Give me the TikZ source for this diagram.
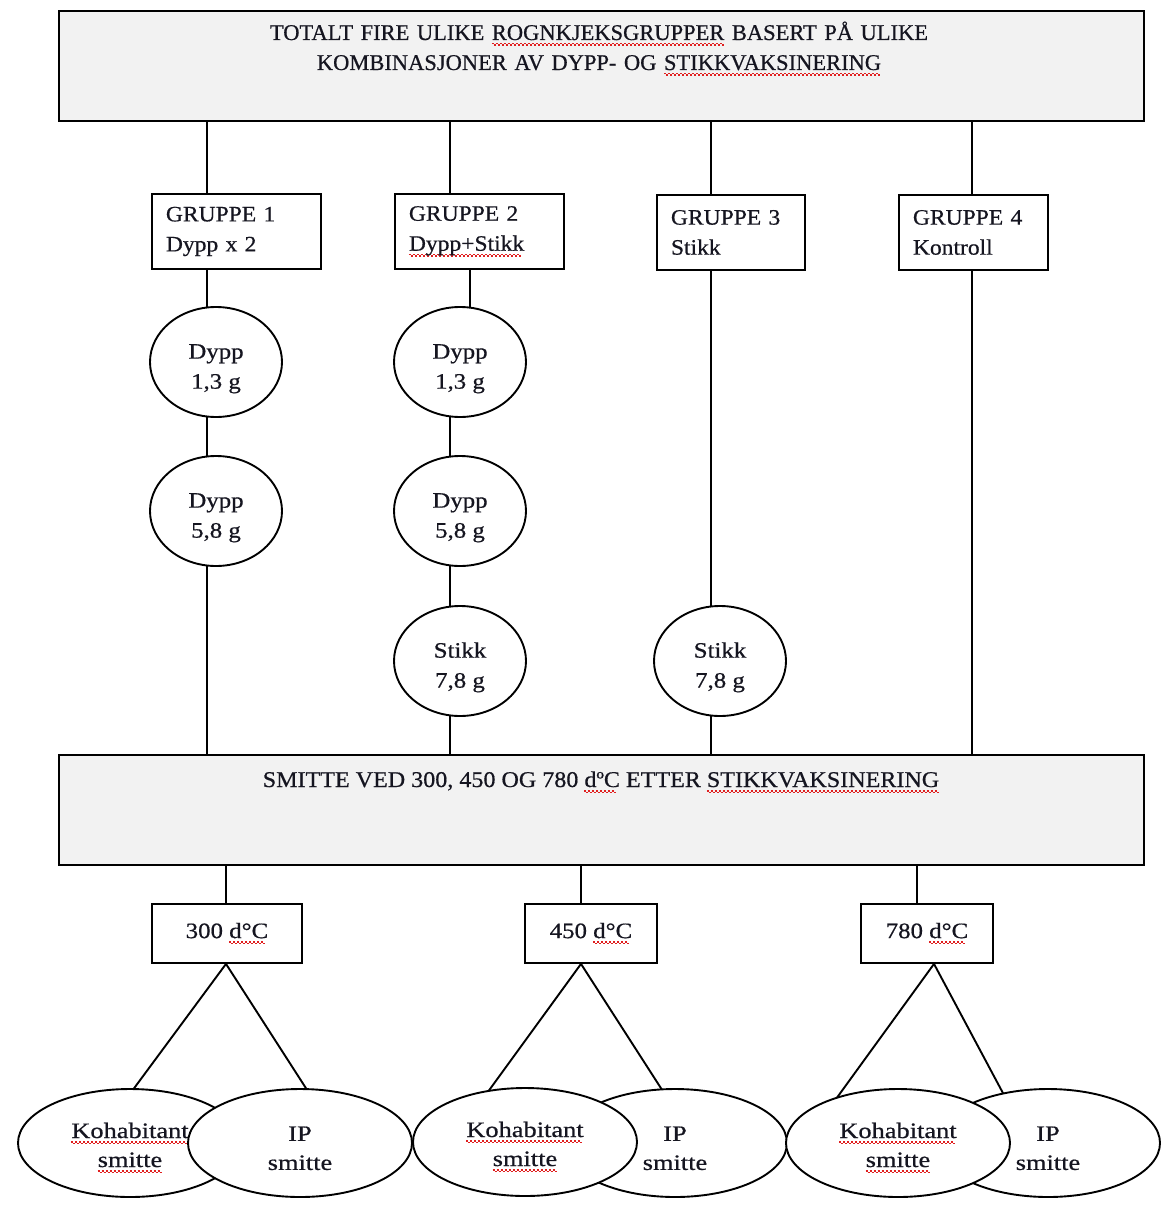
\documentclass[tikz,border=0pt]{standalone}
\usepackage{fontspec}
\setmainfont[FakeBold=0.6]{Liberation Serif}
\newfontfamily\wideA[FakeStretch=1.07,FakeBold=0.6]{Liberation Serif}
\newfontfamily\wideB[FakeStretch=1.13,FakeBold=0.6]{Liberation Serif}
\newfontfamily\wideC[FakeStretch=1.2,FakeBold=0.6]{Liberation Serif}
\usetikzlibrary{shapes.geometric,backgrounds,calc}
\definecolor{boxgray}{HTML}{F2F2F2}
\definecolor{squig}{HTML}{E02020}
\definecolor{ink}{HTML}{151520}
\newsavebox\sqbox
\newcommand\sq[1]{\leavevmode\sbox\sqbox{#1}\rlap{\textcolor{squig}{\leaders\hbox to 4pt{\vrule width 2pt height -3pt depth 4.5pt\vrule width 2pt height -4.5pt depth 6pt}\hskip\wd\sqbox}}\usebox\sqbox}
\newcommand\lift[1]{\rule{0pt}{#1}}
\begin{document}
\begin{tikzpicture}[x=1pt,y=-1pt, every node/.style={text=ink},
  bigbox/.style={draw, line width=2pt, fill=boxgray, minimum width=1085pt, minimum height=110pt, inner sep=0pt, anchor=north west},
  txt/.style={inner sep=0pt},
  grpbox/.style={draw, line width=1.9pt, fill=white, minimum height=75pt, inner xsep=14pt, inner ysep=0pt, align=left, anchor=north west, font=\wideA\fontsize{22}{30}\selectfont},
  dose/.style={ellipse, draw, line width=1.9pt, fill=white, minimum width=132pt, minimum height=110pt, inner sep=0pt, align=center, font=\wideB\fontsize{22}{30}\selectfont},
  degbox/.style={draw, line width=1.9pt, fill=white, minimum height=59pt, inner sep=0pt, anchor=north west, font=\wideB\fontsize{22}{26}\selectfont},
  infect/.style={ellipse, draw, line width=1.9pt, fill=white, minimum width=224pt, minimum height=108pt, inner sep=0pt, align=center, font=\wideC\fontsize{22}{29}\selectfont},
  conn/.style={line width=1.9pt}]
\useasboundingbox (0,0) rectangle (1161,1206);

% main boxes
\node[bigbox] (top) at (58,10) {};
\node[txt, font=\fontsize{22.5}{30}\selectfont, text width=1000pt, align=center, anchor=base] (toptext) at (599,40)
  {TOTALT FIRE ULIKE \sq{ROGNKJEKSGRUPPER} BASERT PÅ ULIKE\\KOMBINASJONER AV DYPP- OG \sq{STIKKVAKSINERING}};
\node[bigbox] (smitte) at (58,754) {};
\node[txt, font=\wideA\fontsize{22.5}{30}\selectfont, anchor=base] (smittetext) at (601,787)
  {SMITTE VED 300, 450 OG 780 \sq{dºC} ETTER \sq{STIKKVAKSINERING}};

% group boxes
\node[grpbox, minimum width=169pt, text width=141pt] (g1) at (151,193) {GRUPPE 1\\Dypp x 2};
\node[grpbox, minimum width=169pt, text width=141pt] (g2) at (394,193) {GRUPPE 2\\\sq{Dypp+Stikk}};
\node[grpbox, minimum width=148pt, text width=120pt] (g3) at (656,194) {GRUPPE 3\\Stikk};
\node[grpbox, minimum width=149pt, text width=121pt] (g4) at (898,194) {GRUPPE 4\\Kontroll};

% vaccination ellipses
\node[dose] (e11) at (216,362) {\lift{28pt}Dypp\\1,3 g};
\node[dose] (e12) at (216,511) {\lift{28pt}Dypp\\5,8 g};
\node[dose] (e21) at (460,362) {\lift{28pt}Dypp\\1,3 g};
\node[dose] (e22) at (460,511) {\lift{28pt}Dypp\\5,8 g};
\node[dose] (e23) at (460,661) {\lift{28pt}Stikk\\7,8 g};
\node[dose] (e33) at (720,661) {\lift{28pt}Stikk\\7,8 g};

% degree-day boxes
\node[degbox, minimum width=150pt] (d1) at (151,903) {300 \sq{d°C}};
\node[degbox, minimum width=132pt] (d2) at (524,903) {450 \sq{d°C}};
\node[degbox, minimum width=132pt] (d3) at (860,903) {780 \sq{d°C}};

% infection ellipses
\node[infect] (k1) at (130,1143) {\lift{25pt}\sq{Kohabitant}\\\sq{smitte}};
\node[infect] (ip1) at (300,1143) {\lift{25pt}IP\\smitte};
\node[infect] (ip2) at (675,1143) {\lift{25pt}IP\\smitte};
\node[infect] (k2) at (525,1142) {\lift{25pt}\sq{Kohabitant}\\\sq{smitte}};
\node[infect] (ip3) at (1048,1143) {\lift{25pt}IP\\smitte};
\node[infect] (k3) at (898,1143) {\lift{25pt}\sq{Kohabitant}\\\sq{smitte}};

% x positions of connectors
\coordinate (x1) at (207,0);
\coordinate (x2) at (450,0);
\coordinate (x2b) at (470,0);
\coordinate (x3) at (711,0);
\coordinate (x4) at (972,0);
\coordinate (xa) at (226,0);
\coordinate (xb) at (581,0);
\coordinate (xc) at (917,0);
\coordinate (xd) at (934,0);

\begin{pgfonlayer}{background}
  % group 1
  \draw[conn] (top.south -| x1) -- (g1.north -| x1);
  \draw[conn] (g1.south -| x1) -- (e11.center -| x1);
  \draw[conn] (e11.center -| x1) -- (e12.center -| x1);
  \draw[conn] (e12.center -| x1) -- (smitte.north -| x1);
  % group 2
  \draw[conn] (top.south -| x2) -- (g2.north -| x2);
  \draw[conn] (g2.south -| x2b) -- (e21.center -| x2b);
  \draw[conn] (e21.center -| x2) -- (e22.center -| x2);
  \draw[conn] (e22.center -| x2) -- (e23.center -| x2);
  \draw[conn] (e23.center -| x2) -- (smitte.north -| x2);
  % group 3
  \draw[conn] (top.south -| x3) -- (g3.north -| x3);
  \draw[conn] (g3.south -| x3) -- (e33.center -| x3);
  \draw[conn] (e33.center -| x3) -- (smitte.north -| x3);
  % group 4
  \draw[conn] (top.south -| x4) -- (g4.north -| x4);
  \draw[conn] (g4.south -| x4) -- (smitte.north -| x4);
  % infection times
  \draw[conn] (smitte.south -| xa) -- (d1.north -| xa);
  \draw[conn] (smitte.south -| xb) -- (d2.north -| xb);
  \draw[conn] (smitte.south -| xc) -- (d3.north -| xc);
  % splits
  \draw[conn] (d1.south -| xa) -- ($(k1.center)+(-12,-33)$);
  \draw[conn] (d1.south -| xa) -- ($(ip1.center)+(20,-33)$);
  \draw[conn] (d2.south -| xb) -- ($(k2.center)+(-51,-31)$);
  \draw[conn] (d2.south -| xb) -- ($(ip2.center)+(0,-33)$);
  \draw[conn] (d3.south -| xd) -- ($(k3.center)+(-70,-33)$);
  \draw[conn] (d3.south -| xd) -- ($(ip3.center)+(-36,-33)$);
\end{pgfonlayer}
\end{tikzpicture}
\end{document}
